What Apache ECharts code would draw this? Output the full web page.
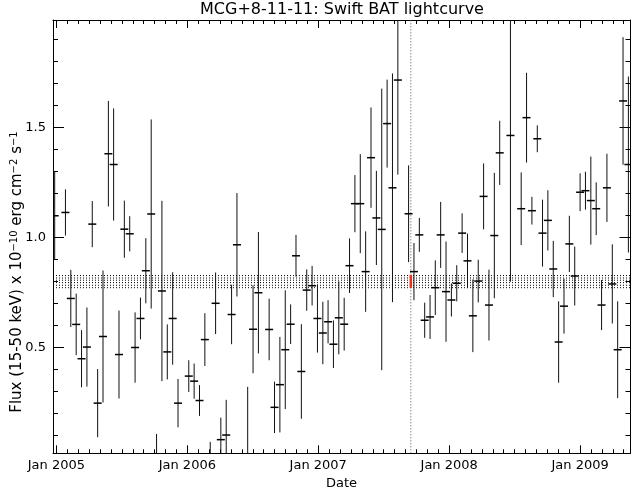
<!DOCTYPE html>
<html>
<head>
<meta charset="utf-8">
<script src="https://cdn.jsdelivr.net/npm/echarts@6/dist/echarts.min.js"></script>
<style>
html,body{margin:0;padding:0;background:#fff;}
#chart{width:632px;height:492px;}
</style>
</head>
<body>
<div id="chart"></div>
<script>
// ---- data (time in decimal years, flux in 1e-10 erg/cm2/s) ----
const times = [
  2004.987, 2005.069, 2005.110, 2005.151, 2005.192, 2005.233, 2005.274, 2005.315, 2005.356, 2005.397,
  2005.437, 2005.478, 2005.519, 2005.560, 2005.601, 2005.642, 2005.683, 2005.724, 2005.765, 2005.806,
  2005.847, 2005.888, 2005.929, 2006.011, 2006.052, 2006.093, 2006.134, 2006.175, 2006.216, 2006.256,
  2006.297, 2006.338, 2006.379, 2006.461, 2006.502, 2006.543, 2006.625, 2006.666, 2006.707, 2006.748,
  2006.789, 2006.830, 2006.871, 2006.912, 2006.953, 2006.994, 2007.035, 2007.075, 2007.116, 2007.157,
  2007.198, 2007.239, 2007.280, 2007.321, 2007.362, 2007.403, 2007.444, 2007.485, 2007.526, 2007.567,
  2007.608, 2007.690, 2007.731, 2007.772, 2007.813, 2007.854, 2007.894, 2007.935, 2007.976, 2008.017,
  2008.058, 2008.099, 2008.140, 2008.181, 2008.222, 2008.263, 2008.304, 2008.345, 2008.386, 2008.468,
  2008.550, 2008.591, 2008.632, 2008.673, 2008.713, 2008.754, 2008.795, 2008.836, 2008.877, 2008.918,
  2008.959, 2009.000, 2009.041, 2009.082, 2009.123, 2009.164, 2009.205, 2009.246, 2009.287, 2009.328,
  2009.369
];
const flux = [
  1.098, 1.113, 0.722, 0.604, 0.448, 0.501, 1.060, 0.246, 0.549, 1.380,
  1.331, 0.467, 1.037, 1.016, 0.499, 0.631, 0.848, 1.106, -0.040, 0.756,
  0.479, 0.631, 0.246, 0.369, 0.346, 0.258, 0.535, -0.050, 0.700, 0.080,
  0.101, 0.649, 0.966, -0.020, 0.582, 0.748, 0.581, 0.227, 0.330, 0.489,
  0.605, 0.916, 0.390, 0.760, 0.780, 0.631, 0.565, 0.616, 0.514, 0.634,
  0.605, 0.871, 1.153, 1.153, 0.844, 1.362, 1.088, 1.036, 1.517, 1.225,
  1.715, 1.107, 0.844, 1.011, 0.623, 0.638, 0.771, 1.011, 0.753, 0.715,
  0.791, 1.019, 0.893, 0.643, 0.801, 1.186, 0.692, 1.008, 1.384, 1.463,
  1.130, 1.544, 1.121, 1.448, 1.019, 1.077, 0.856, 0.524, 0.687, 0.970,
  0.824, 1.205, 1.212, 1.167, 1.130, 0.692, 1.225, 0.788, 0.489, 1.620,
  1.331
];
const fluxErr = [
  0.200, 0.105, 0.130, 0.140, 0.130, 0.180, 0.105, 0.155, 0.300, 0.240,
  0.255, 0.200, 0.130, 0.080, 0.160, 0.095, 0.148, 0.430, 0.146, 0.410,
  0.125, 0.210, 0.110, 0.072, 0.080, 0.070, 0.120, 0.120, 0.140, 0.100,
  0.160, 0.135, 0.235, 0.340, 0.200, 0.276, 0.140, 0.117, 0.217, 0.270,
  0.090, 0.095, 0.215, 0.094, 0.090, 0.155, 0.142, 0.098, 0.108, 0.166,
  0.120, 0.124, 0.130, 0.225, 0.183, 0.228, 0.214, 0.640, 0.200, 0.520,
  0.430, 0.220, 0.130, 0.077, 0.080, 0.100, 0.124, 0.150, 0.228, 0.075,
  0.082, 0.090, 0.124, 0.165, 0.097, 0.150, 0.161, 0.285, 0.146, 0.665,
  0.165, 0.204, 0.063, 0.061, 0.152, 0.137, 0.128, 0.185, 0.125, 0.128,
  0.134, 0.086, 0.086, 0.200, 0.120, 0.114, 0.155, 0.180, 0.220, 0.290,
  0.400
];
// horizontal reference levels (dotted band) and vertical marker
const bandLevels = [0.826, 0.815, 0.805, 0.794, 0.782, 0.771];
const markerTime = 2007.707;
const markerRange = [0.771, 0.830];
// ticks
const yearTicks = [2005, 2006, 2007, 2008, 2009];
const yearLabels = ['Jan 2005', 'Jan 2006', 'Jan 2007', 'Jan 2008', 'Jan 2009'];
const yMajorTicks = [0.5, 1.0, 1.5];
const yMajorLabels = ['0.5', '1.0', '1.5'];
const yMinorTicks = [0.1, 0.2, 0.3, 0.4, 0.5, 0.6, 0.7, 0.8, 0.9, 1.0, 1.1, 1.2, 1.3, 1.4, 1.5, 1.6, 1.7, 1.8, 1.9];

// ---- layout ----
const X_MIN = 2004.974, X_MAX = 2009.385;
const Y_MIN = 0.018, Y_MAX = 1.988;
const FONT = 'DejaVu Sans';
const monthTicks = [];
for (let yr = 2004; yr <= 2009; yr++) {
  for (let m = 0; m < 12; m++) {
    const t = yr + m / 12;
    if (t > X_MIN && t < X_MAX) monthTicks.push(t);
  }
}
const gridRect = { left: 53, top: 20, width: 577.5, height: 433.3 };
const grids = [0, 1, 2, 3].map(() => Object.assign({}, gridRect));

function xAx(gi, pos, ticks, len, labels, lineShow) {
  return {
    type: 'value', gridIndex: gi, position: pos, min: X_MIN, max: X_MAX,
    axisLine: { show: lineShow, onZero: false, lineStyle: { color: '#000', width: 1 } },
    axisTick: { show: true, inside: true, length: len, customValues: ticks, lineStyle: { color: '#000', width: 1 } },
    axisLabel: labels ? {
      show: true, customValues: yearTicks, margin: 6, color: '#000', fontFamily: FONT, fontSize: 13,
      formatter: v => { const i = yearTicks.indexOf(Math.round(v)); return i >= 0 ? yearLabels[i] : ''; }
    } : { show: false },
    splitLine: { show: false }
  };
}
function yAx(gi, pos, ticks, len, labels, lineShow) {
  return {
    type: 'value', gridIndex: gi, position: pos, min: Y_MIN, max: Y_MAX,
    axisLine: { show: lineShow, onZero: false, lineStyle: { color: '#000', width: 1 } },
    axisTick: { show: true, inside: true, length: len, customValues: ticks, lineStyle: { color: '#000', width: 1 } },
    axisLabel: labels ? {
      show: true, customValues: yMajorTicks, margin: 7, color: '#000', fontFamily: FONT, fontSize: 13,
      formatter: v => { const i = yMajorTicks.findIndex(t => Math.abs(t - v) < 1e-6); return i >= 0 ? yMajorLabels[i] : ''; }
    } : { show: false },
    splitLine: { show: false }
  };
}

const pointData = times.map((t, i) => [t, flux[i], fluxErr[i]]);

function renderErr(params, api) {
  const t = api.value(0), v = api.value(1), e = api.value(2);
  const cs = params.coordSys;
  const lo = Math.max(v - e, Y_MIN), hi = Math.min(v + e, Y_MAX);
  const children = [];
  if (hi > lo) {
    const p1 = api.coord([t, lo]), p2 = api.coord([t, hi]);
    children.push({ type: 'line', shape: { x1: p1[0], y1: p1[1], x2: p2[0], y2: p2[1] },
      style: { stroke: '#111', lineWidth: 1 } });
  }
  if (v >= Y_MIN && v <= Y_MAX) {
    const c = api.coord([t, v]);
    const xa = Math.max(c[0] - 4, cs.x), xb = Math.min(c[0] + 4, cs.x + cs.width);
    children.push({ type: 'line', shape: { x1: xa, y1: c[1], x2: xb, y2: c[1] },
      style: { stroke: '#000', lineWidth: 1.5 } });
  }
  return { type: 'group', children };
}

const series = [];
bandLevels.forEach(lv => {
  series.push({
    type: 'line', xAxisIndex: 0, yAxisIndex: 0, data: [[X_MIN, lv], [X_MAX, lv]],
    symbol: 'none', silent: true, z: 1,
    lineStyle: { color: '#000', width: 1, type: [1, 2] }
  });
});
series.push({
  type: 'line', xAxisIndex: 0, yAxisIndex: 0, data: [[markerTime, Y_MIN], [markerTime, Y_MAX]],
  symbol: 'none', silent: true, z: 1, lineStyle: { color: '#555', width: 1, type: [1, 2] }
});
series.push({
  type: 'custom', xAxisIndex: 0, yAxisIndex: 0, data: pointData, renderItem: renderErr, z: 3
});
series.push({
  type: 'line', xAxisIndex: 0, yAxisIndex: 0, data: [[markerTime, markerRange[0]], [markerTime, markerRange[1]]],
  symbol: 'none', silent: true, z: 4, lineStyle: { color: '#e8321e', width: 2.5 }
});

const option = {
  animation: false,
  backgroundColor: '#fff',
  grid: grids,
  xAxis: [
    xAx(0, 'bottom', yearTicks, 8, true, true),
    xAx(1, 'top', yearTicks, 8, false, true),
    xAx(2, 'bottom', monthTicks, 4, false, false),
    xAx(3, 'top', monthTicks, 4, false, false)
  ],
  yAxis: [
    yAx(0, 'left', yMajorTicks, 11, true, true),
    yAx(1, 'right', yMajorTicks, 11, false, true),
    yAx(2, 'left', yMinorTicks, 5, false, false),
    yAx(3, 'right', yMinorTicks, 5, false, false)
  ],
  series: series,
  graphic: [
    { type: 'text', x: 342, y: 10, silent: true,
      style: { text: 'MCG+8-11-11: Swift BAT lightcurve', align: 'center', verticalAlign: 'middle',
        fontFamily: FONT, fontSize: 16, fill: '#000' } },
    { type: 'text', x: 341.5, y: 484, silent: true,
      style: { text: 'Date', align: 'center', verticalAlign: 'middle', fontFamily: FONT, fontSize: 13, fill: '#000' } },
    { type: 'text', x: 17, y: 272, rotation: Math.PI / 2, silent: true,
      style: {
        text: '{a|Flux (15-50 keV) x 10}{b|−10}{a| erg cm}{b|−2}{a| s}{b|−1}',
        align: 'center', verticalAlign: 'middle', fill: '#000',
        rich: {
          a: { fontFamily: FONT, fontSize: 15, fill: '#000' },
          b: { fontFamily: FONT, fontSize: 10, fill: '#000', verticalAlign: 'top' }
        }
      } }
  ]
};
const chart = echarts.init(document.getElementById('chart'), null, { renderer: 'canvas' });
chart.setOption(option);
</script>
</body>
</html>
